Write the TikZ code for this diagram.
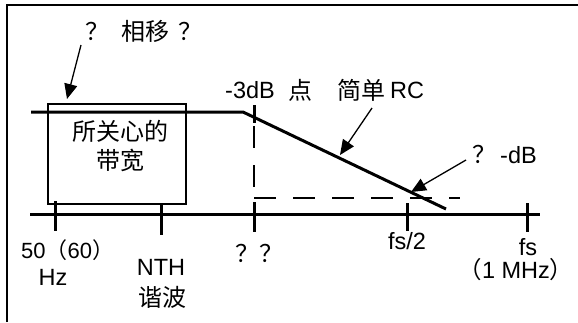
\documentclass[tikz,border=0pt]{standalone}
\usepackage{fontspec}
\setmainfont{Liberation Sans}
\newfontfamily\cjk{Noto Sans CJK SC}
\usetikzlibrary{arrows.meta}
\begin{document}
\begin{tikzpicture}[x=1pt,y=-1pt,
  lbl/.style={inner sep=0pt,font=\fontsize{23.5}{27}\selectfont},
  cj/.style={inner sep=0pt,font=\fontsize{24}{29}\selectfont\cjk},
  thickline/.style={line width=3pt},
  tickline/.style={line width=3pt},
  dashline/.style={line width=2pt,dash pattern=on 22pt off 17pt},
  pointer/.style={line width=1.3pt,-{Triangle[length=15pt,width=13pt]}},
  bandbox/.style={draw,line width=2pt,minimum width=138pt,minimum height=100pt,inner sep=0pt}]
\useasboundingbox (0,0) rectangle (578,322);
% frame
\draw[line width=2.5pt] (7,322) -- (7,5) -- (578,5);
% band box
\node[bandbox] (box) at (117,154) {};
\node[cj,align=center] (bandtxt) at (120,146) {所关心的\\带宽};
% response
\coordinate (r0) at (31,112);
\coordinate (r1) at (243,112);
\coordinate (r2) at (446,209);
\draw[thickline] (r0) -- (r1) -- (r2);
% axis
\coordinate (a0) at (30,214);
\coordinate (a1) at (540,214);
\draw[thickline] (a0) -- (a1);
% ticks
\coordinate (t1a) at (55,201); \coordinate (t1b) at (55,231);
\coordinate (t2a) at (161,204); \coordinate (t2b) at (161,235);
\coordinate (t3a) at (254,202); \coordinate (t3b) at (254,232);
\coordinate (t4a) at (407,203); \coordinate (t4b) at (407,231);
\coordinate (t5a) at (527,203); \coordinate (t5b) at (527,232);
\coordinate (t6a) at (254,105); \coordinate (t6b) at (254,123);
\foreach \t in {1,...,6} \draw[tickline] (t\t a) -- (t\t b);
% dashed
\coordinate (d0) at (254,126);
\coordinate (d1) at (254,198);
\coordinate (d2) at (460,198);
\draw[dashline] (d0) -- (d1);
\draw[dashline] (d1) -- (d2);
% top labels
\node[cj] (q1) at (97,31) {？};
\node[cj] (phase) at (145,31) {相移};
\node[cj] (q2) at (190,31) {？};
\coordinate (p1s) at (81,45);
\coordinate (p1e) at (67,99);
\draw[pointer] (p1s) -- (p1e);
\node[lbl,anchor=west] (m3db) at (225,90) {-3dB};
\node[cj,anchor=west] (dian) at (288,90) {点};
\node[cj,anchor=west] (simple) at (337,90) {简单};
\node[lbl,anchor=west] (rc) at (390,90) {RC};
\coordinate (p2s) at (372,108);
\coordinate (p2e) at (340,155);
\draw[pointer] (p2s) -- (p2e);
\node[cj] (q3) at (484,154) {？};
\node[lbl,anchor=west] (mdb) at (500,155) {-dB};
\coordinate (p3s) at (466,160);
\coordinate (p3e) at (411,192);
\draw[pointer] (p3s) -- (p3e);
% bottom labels
\node[inner sep=0pt,font=\fontsize{22}{26}\selectfont,anchor=west] (f50) at (21,250) {50\cjk（\fontspec{Liberation Sans}60\cjk）};
\node[lbl] (hz) at (53,277) {Hz};
\node[lbl] (nth) at (161,267) {NTH};
\node[cj] (harm) at (162,297) {谐波};
\node[cj] (qq) at (259,253) {？？};
\node[lbl] (fs2) at (407,241) {fs/2};
\node[lbl] (fs) at (528,247) {fs};
\node[lbl] (mhz) at (516,270) {\cjk（\fontspec{Liberation Sans}1 MHz\cjk）};
\end{tikzpicture}
\end{document}
